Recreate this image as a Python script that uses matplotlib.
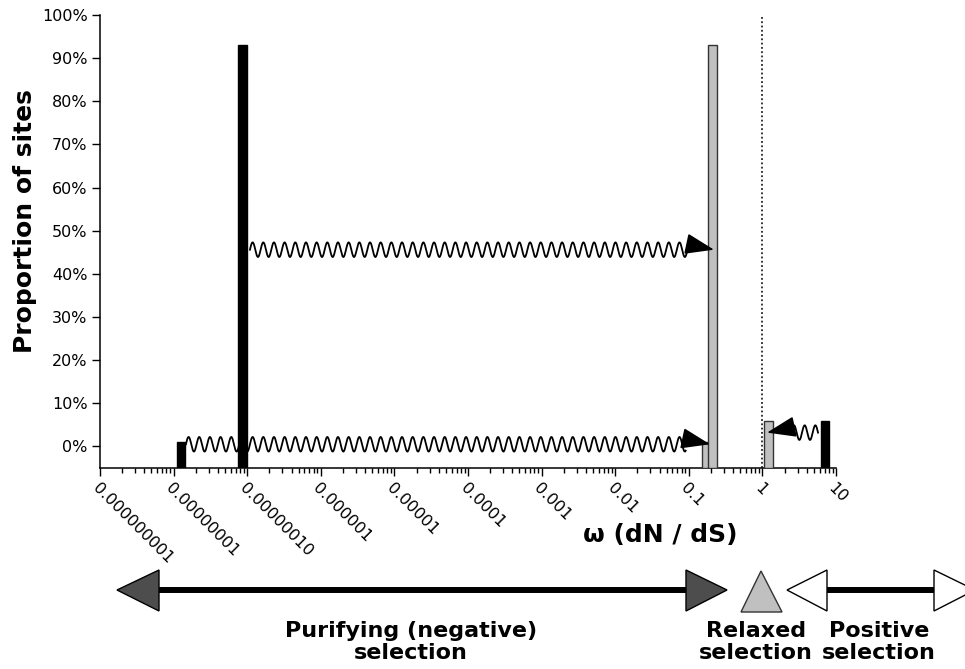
import numpy as np
import matplotlib.pyplot as plt
from matplotlib.patches import Polygon
from matplotlib.ticker import PercentFormatter, NullFormatter, LogLocator

# ── Data: omega classes before (black) and after (grey) ──────────────────
black_x = [1.26e-8, 8.6e-8, 7.1]
black_h = [0.01, 0.93, 0.06]
grey_x = [0.175, 0.21, 1.21]
grey_h = [0.01, 0.93, 0.06]

# wavy arrows linking each black class to its grey class
wave_start = [1.47e-8, 1.09e-7, 5.7]
wave_tip = [0.194, 0.22, 1.155]
wave_y = [0.005, 0.456, 0.032]

tick_vals = [1e-9, 1e-8, 1e-7, 1e-6, 1e-5, 1e-4, 1e-3, 1e-2, 1e-1, 1, 10]
tick_labels = ['0.000000001', '0.00000001', '0.00000010', '0.000001', '0.00001',
               '0.0001', '0.001', '0.01', '0.1', '1', '10']

YMIN = -0.05
LOGW = 0.115          # bar width in decades
C_GREY = '#c0c0c0'

fig = plt.figure(figsize=(9.65, 6.69), dpi=100)
ax = fig.add_axes([100/965, 1-468/669, 736/965, 453/669])


def log_bars(xs, hs, **kw):
    xs = np.asarray(xs)
    left = xs / 10**(LOGW/2)
    width = left * (10**LOGW - 1)
    ax.bar(left, np.asarray(hs) - YMIN, width=width, bottom=YMIN, align='edge', **kw)


log_bars(black_x, black_h, color='k', edgecolor='k', lw=1, zorder=3)
log_bars(grey_x, grey_h, color=C_GREY, edgecolor='#333333', lw=1, zorder=3)

ax.axvline(1, color='k', ls=(0, (1.2, 1.6)), lw=1.1, zorder=2)


def wavy(x0, x1, y, period=0.145, amp=0.017):
    l0, l1 = np.log10(x0), np.log10(x1)
    sgn = 1 if l1 > l0 else -1
    lb = l1 - sgn * 0.33
    lx = np.linspace(l0, lb, 800)
    yy = y + amp * np.sin(2 * np.pi * np.abs(lx - l0) / period)
    ax.plot(10**lx, yy, color='k', lw=1.3, zorder=4)
    ax.annotate('', xy=(x1, y), xytext=(10**lb, y + 0.012),
                arrowprops=dict(arrowstyle='-|>,head_length=1.8,head_width=0.65',
                                mutation_scale=10, color='k', lw=1.2,
                                shrinkA=0, shrinkB=0), zorder=5)


for s, t, y in zip(wave_start, wave_tip, wave_y):
    wavy(s, t, y)

ax.set_xscale('log')
ax.set_xlim(1e-9, 10)
ax.set_ylim(YMIN, 1.0)
ax.set_yticks(np.arange(0, 1.01, 0.1))
ax.yaxis.set_major_formatter(PercentFormatter(1.0, decimals=0))
ax.set_xticks(tick_vals)
ax.set_xticklabels(tick_labels, rotation=-45, ha='left', va='top', rotation_mode='anchor')
ax.xaxis.set_minor_locator(LogLocator(base=10, subs=np.arange(2, 10), numticks=100))
ax.xaxis.set_minor_formatter(NullFormatter())
ax.tick_params(axis='both', which='major', labelsize=11.5, length=6, width=1, pad=3)
ax.tick_params(axis='x', which='minor', length=3.5, width=1)
for lbl in ax.get_xticklabels():
    lbl.set_x(lbl.get_position()[0])
for sp in ['top', 'right']:
    ax.spines[sp].set_visible(False)
for sp in ['left', 'bottom']:
    ax.spines[sp].set_linewidth(1.1)

ax.set_ylabel('Proportion of sites', fontsize=18, fontweight='bold')
ax.yaxis.set_label_coords(-75/736, 0.545)
ax.yaxis.label.set_va('center')
ax.set_xlabel('ω (dN / dS)', fontsize=18, fontweight='bold')
ax.xaxis.set_label_coords(560/736, -67/453)
ax.xaxis.label.set_va('center')

# ── Selection regime arrows below the axis (pixel coords) ────────────────
ov = fig.add_axes([0, 0, 1, 1])
ov.set_xlim(0, 965)
ov.set_ylim(669, 0)
ov.axis('off')

yc = 590
ov.plot([159, 686], [yc, yc], color='k', lw=4.3, solid_capstyle='butt')
ov.add_patch(Polygon([(117, yc), (159, 570), (159, 611)], closed=True,
                     facecolor='#4d4d4d', edgecolor='k', lw=1))
ov.add_patch(Polygon([(727, yc), (686, 570), (686, 611)], closed=True,
                     facecolor='#4d4d4d', edgecolor='k', lw=1))
ov.add_patch(Polygon([(741, 612), (782, 612), (761, 571)], closed=True,
                     facecolor=C_GREY, edgecolor='#333333', lw=1))
ov.plot([827, 934], [yc, yc], color='k', lw=4.3, solid_capstyle='butt')
ov.add_patch(Polygon([(787, yc), (827, 570), (827, 611)], closed=True,
                     facecolor='white', edgecolor='k', lw=1))
ov.add_patch(Polygon([(975, yc), (934, 570), (934, 611)], closed=True,
                     facecolor='white', edgecolor='k', lw=1, clip_on=False))

txt = dict(fontsize=16, fontweight='bold', ha='center', va='center', linespacing=1.15)
ov.text(411, 642, 'Purifying (negative)\nselection', **txt)
ov.text(756, 642, 'Relaxed\nselection', **txt)
ov.text(879, 642, 'Positive\nselection', **txt)

fig.savefig('out.png', dpi=100)
